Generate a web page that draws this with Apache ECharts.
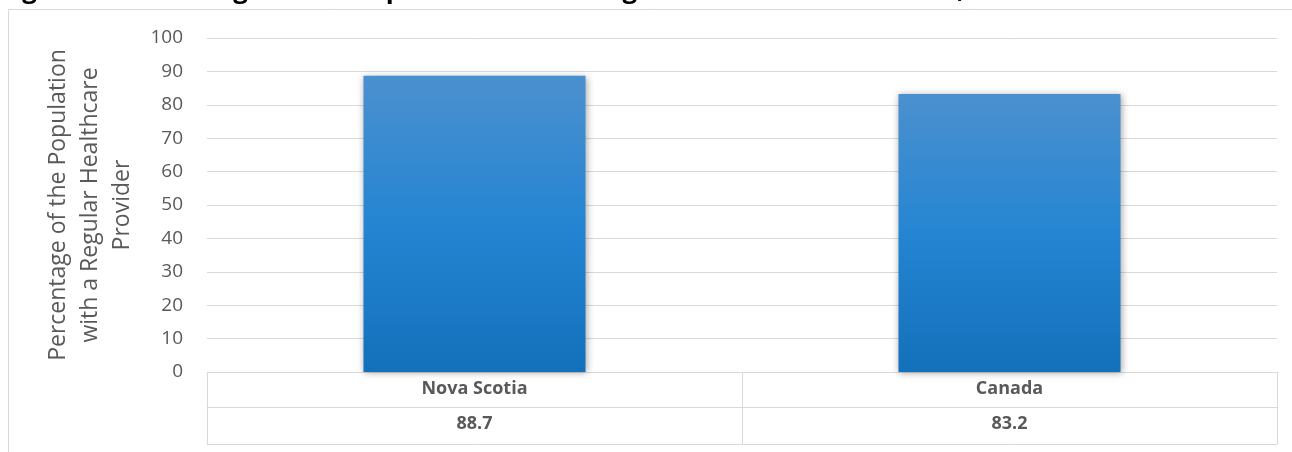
<!DOCTYPE html>
<html>
<head>
<meta charset="utf-8">
<script src="https://cdn.jsdelivr.net/npm/echarts@6/dist/echarts.min.js"></script>
<style>
  html, body { margin: 0; padding: 0; background: #ffffff; }
  #chart { width: 1292px; height: 452px; }
</style>
</head>
<body>
<div id="chart"></div>
<script>
// Regions compared
const categories = ['Nova Scotia', 'Canada'];
// Percentage of the population with a regular healthcare provider, 2013
const values = [88.7, 83.2];
// Y axis range and step
const yMin = 0;
const yMax = 100;
const yStep = 10;

const titleText = 'Figure 7: Percentage of the Population with a Regular Healthcare Provider, 2013';
const yAxisTitle = 'Percentage of the Population\nwith a Regular Healthcare\nProvider';

const textGrey = '#595959';
const lineGrey = '#d9d9d9';

const chart = echarts.init(document.getElementById('chart'), null, { renderer: 'canvas' });

chart.setOption({
  animation: false,
  backgroundColor: '#ffffff',
  title: {
    text: titleText,
    left: 0,
    top: -22,
    padding: 0,
    textStyle: { fontFamily: 'Open Sans', fontWeight: 'bold', fontSize: 26, color: '#000000' }
  },
  graphic: [{
    type: 'rect',
    shape: { x: 8.5, y: 9.5, width: 1300, height: 460 },
    style: { fill: 'none', stroke: lineGrey, lineWidth: 1 },
    silent: true,
    z: -10
  }],
  grid: { left: 207, right: 15, top: 38, bottom: 80 },
  xAxis: [
    {
      // category row of the data table
      type: 'category',
      data: categories,
      position: 'bottom',
      axisLine: { show: true, lineStyle: { color: lineGrey, width: 1 } },
      axisTick: { show: true, length: 35, lineStyle: { color: lineGrey } },
      axisLabel: { margin: 8, fontFamily: 'Open Sans', fontWeight: 'bold', fontSize: 18, color: textGrey },
      splitLine: { show: false }
    },
    {
      // value row of the data table
      type: 'category',
      data: values.map(v => v.toFixed(1)),
      position: 'bottom',
      offset: 35,
      axisLine: { show: true, lineStyle: { color: lineGrey, width: 1 } },
      axisTick: { show: true, length: 37, lineStyle: { color: lineGrey } },
      axisLabel: { margin: 8, fontFamily: 'Open Sans', fontWeight: 'bold', fontSize: 18, color: textGrey },
      splitLine: { show: false }
    },
    {
      // closing line under the data table
      type: 'category',
      data: categories,
      position: 'bottom',
      offset: 72,
      axisLine: { show: true, lineStyle: { color: lineGrey, width: 1 } },
      axisTick: { show: false },
      axisLabel: { show: false }
    }
  ],
  yAxis: {
    type: 'value',
    min: yMin,
    max: yMax,
    interval: yStep,
    name: yAxisTitle,
    nameLocation: 'middle',
    nameRotate: 90,
    nameGap: 69,
    nameTextStyle: { fontFamily: 'Open Sans', fontSize: 23, color: textGrey, lineHeight: 32, align: 'center' },
    axisLine: { show: false },
    axisTick: { show: false },
    axisLabel: { margin: 24, fontFamily: 'Open Sans', fontSize: 19, color: textGrey },
    splitLine: { show: true, lineStyle: { color: lineGrey, width: 1 } }
  },
  series: [{
    type: 'bar',
    data: values,
    xAxisIndex: 0,
    barWidth: '41.5%',
    itemStyle: {
      color: new echarts.graphic.LinearGradient(0, 0, 0, 1, [
        { offset: 0, color: '#4b90cf' },
        { offset: 0.5, color: '#2585d2' },
        { offset: 1, color: '#1370bb' }
      ]),
      shadowBlur: 7,
      shadowColor: 'rgba(0,0,0,0.35)',
      shadowOffsetX: 1,
      shadowOffsetY: 1
    }
  }]
});
</script>
</body>
</html>
